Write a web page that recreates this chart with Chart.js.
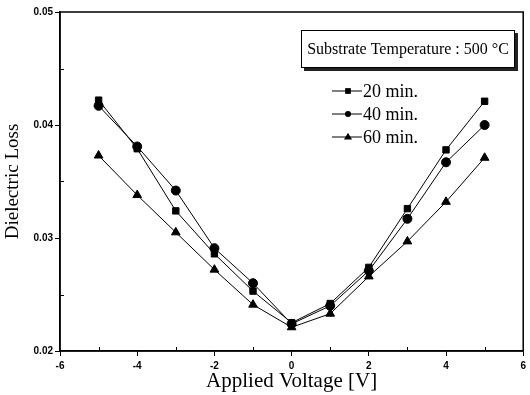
<!DOCTYPE html>
<html>
<head>
<meta charset="utf-8">
<script src="https://cdn.jsdelivr.net/npm/chart.js@4"></script>
<style>
  html, body { margin: 0; padding: 0; background: #fff; }
  #wrap { width: 530px; height: 395px; }
</style>
</head>
<body>
<div id="wrap"><canvas id="lossChart"></canvas></div>
<script>
// applied voltage [V]
var voltages = [-5, -4, -3, -2, -1, 0, 1, 2, 3, 4, 5];
// dielectric loss for each deposition time
var loss20 = [0.0422, 0.0379, 0.0324, 0.0286, 0.0253, 0.0225, 0.0242, 0.0274, 0.0326, 0.0378, 0.0421];
var loss40 = [0.0417, 0.0381, 0.0342, 0.0291, 0.0260, 0.0224, 0.0240, 0.0271, 0.0317, 0.0367, 0.0400];
var loss60 = [0.0373, 0.0338, 0.0305, 0.0272, 0.0241, 0.0221, 0.0233, 0.0266, 0.0297, 0.0332, 0.0371];
var seriesLabels = ['20 min.', '40 min.', '60 min.'];
var boxTitle = 'Substrate Temperature : 500 \u00B0C';

function pts(ys) {
    return voltages.map(function(v, i) { return { x: v, y: ys[i] }; });
}

var serif = '"Liberation Serif", "Times New Roman", serif';
var sans = '"Liberation Sans", Arial, sans-serif';

function isMajorX(v) { return Math.round(v) % 2 === 0; }
function isMajorY(v) { return Math.round(v * 1000) % 10 === 0; }

// frame, inward minor ticks, the "Substrate Temperature" box and legend
var framePlugin = {
    id: 'frame',
    afterDraw: function(chart) {
        var c = chart.ctx, a = chart.chartArea;
        c.save();
        c.strokeStyle = '#000';
        c.lineWidth = 1.5;
        c.strokeRect(a.left, a.top, a.right - a.left, a.bottom - a.top);

        // minor ticks point into the plot
        c.lineWidth = 1;
        chart.scales.x.ticks.forEach(function(t) {
            if (isMajorX(t.value)) return;
            var px = Math.round(chart.scales.x.getPixelForValue(t.value)) + 0.5;
            c.beginPath(); c.moveTo(px, a.bottom); c.lineTo(px, a.bottom - 4); c.stroke();
        });
        chart.scales.y.ticks.forEach(function(t) {
            if (isMajorY(t.value)) return;
            var py = Math.round(chart.scales.y.getPixelForValue(t.value)) + 0.5;
            c.beginPath(); c.moveTo(a.left, py); c.lineTo(a.left + 4, py); c.stroke();
        });

        // title box with shadow
        c.fillStyle = '#222';
        c.fillRect(304, 33, 214, 38);
        c.fillStyle = '#fff';
        c.fillRect(301, 30, 214, 38);
        c.strokeRect(301.5, 30.5, 213, 37);
        c.fillStyle = '#000';
        c.font = '16px ' + serif;
        c.textBaseline = 'middle';
        c.textAlign = 'center';
        c.fillText(boxTitle, 408, 50);

        // legend entries
        c.textAlign = 'left';
        c.font = '18px ' + serif;
        chart.data.datasets.forEach(function(ds, i) {
            var y = 91 + i * 23;
            c.beginPath();
            c.moveTo(332, y);
            c.lineTo(362, y);
            c.stroke();
            drawMarker(c, ds.pointStyle, 348, y, ds.pointRadius * 0.85);
            c.fillText(ds.label, 363, y + 1);
        });
        c.restore();
    }
};

function drawMarker(c, style, x, y, r) {
    c.beginPath();
    if (style === 'rect') {
        c.rect(x - r * 0.75, y - r * 0.75, r * 1.5, r * 1.5);
    } else if (style === 'triangle') {
        c.moveTo(x, y - r);
        c.lineTo(x + r * 0.95, y + r * 0.6);
        c.lineTo(x - r * 0.95, y + r * 0.6);
        c.closePath();
    } else {
        c.arc(x, y, r * 0.8, 0, Math.PI * 2);
    }
    c.fill();
}

function line(label, ys, style, r) {
    return {
        label: label,
        data: pts(ys),
        borderColor: '#000',
        backgroundColor: '#000',
        borderWidth: 1,
        pointStyle: style,
        pointRadius: r,
        pointHoverRadius: r,
        tension: 0
    };
}

new Chart(document.getElementById('lossChart'), {
    type: 'line',
    data: {
        datasets: [
            line(seriesLabels[0], loss20, 'rect', 4.5),
            line(seriesLabels[1], loss40, 'circle', 4.5),
            line(seriesLabels[2], loss60, 'triangle', 5)
        ]
    },
    options: {
        responsive: true,
        maintainAspectRatio: false,
        animation: false,
        layout: { padding: { top: 12, right: 2, left: 2, bottom: 0 } },
        plugins: {
            legend: { display: false },
            tooltip: { enabled: false }
        },
        scales: {
            x: {
                type: 'linear',
                min: -6,
                max: 6,
                afterFit: function(s) { s.height = 44; },
                ticks: {
                    stepSize: 1,
                    color: '#000',
                    font: { family: sans, size: 10, weight: 'bold' },
                    padding: 4,
                    callback: function(v) { return isMajorX(v) ? v : ''; }
                },
                grid: {
                    drawOnChartArea: false,
                    tickColor: function(ctx) {
                        return ctx.tick && isMajorX(ctx.tick.value) ? '#000' : 'rgba(0,0,0,0)';
                    },
                    tickLength: 5
                },
                border: { color: '#000', width: 1.5 },
                title: {
                    display: true,
                    text: 'Applied Voltage [V]',
                    color: '#000',
                    font: { family: serif, size: 21 },
                    padding: { top: 0, bottom: 1 }
                }
            },
            y: {
                min: 0.02,
                max: 0.05,
                afterFit: function(s) { s.width = 58; },
                ticks: {
                    stepSize: 0.005,
                    color: '#000',
                    font: { family: sans, size: 10, weight: 'bold' },
                    padding: 2,
                    callback: function(v) {
                        return isMajorY(v) ? v.toFixed(2) : '';
                    }
                },
                grid: {
                    drawOnChartArea: false,
                    tickColor: function(ctx) {
                        return ctx.tick && isMajorY(ctx.tick.value) ? '#000' : 'rgba(0,0,0,0)';
                    },
                    tickLength: 5
                },
                border: { color: '#000', width: 1.5 },
                title: {
                    display: true,
                    text: 'Dielectric Loss',
                    color: '#000',
                    font: { family: serif, size: 19 },
                    padding: { top: 0, bottom: 4 }
                }
            }
        }
    },
    plugins: [framePlugin]
});
</script>
</body>
</html>
